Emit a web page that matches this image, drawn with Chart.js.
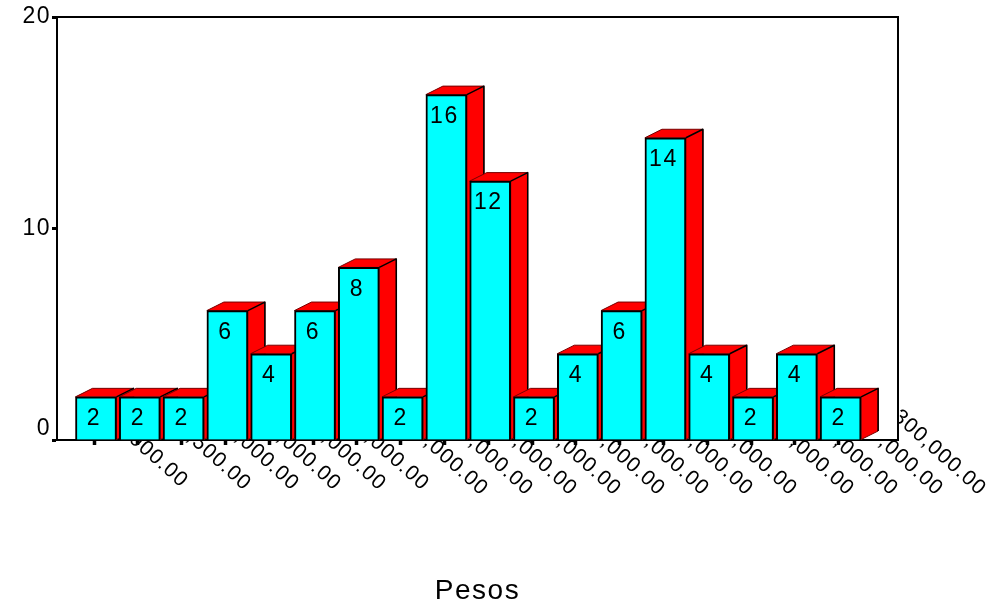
<!DOCTYPE html>
<html lang="es">
<head>
    <meta charset="UTF-8">
    <title>Pesos</title>
    <script src="https://cdn.jsdelivr.net/npm/chart.js"></script>
    <style>
        html, body { margin: 0; padding: 0; background: #fff; }
        #wrap { width: 988px; height: 605px; }
    </style>
</head>
<body>
    <div id="wrap"><canvas id="chart" width="988" height="605"></canvas></div>

    <script>
        const pesoLabels = ['900,000.00', '1,100,500.00', '1,200,000.00', '1,300,000.00', '1,400,000.00', '1,500,000.00',
            '1,600,000.00', '1,700,000.00', '1,800,000.00', '1,900,000.00', '2,000,000.00', '2,100,000.00',
            '2,200,000.00', '2,300,000.00', '2,400,000.00', '2,500,000.00', '3,000,000.00', '4,300,000.00'];
        const percents = [2.04, 2.04, 2.04, 6.12, 4.08, 6.12, 8.16, 2.04, 16.33, 12.24, 2.04, 4.08, 6.12, 14.29, 4.08, 2.04, 4.08, 2.04];
        const labelEndX = [185, 248, 296, 338, 383, 426, 485, 530, 574, 618, 662, 706, 750, 794, 851, 895, 940, 983];
        const labelEndY = [484, 487, 487, 487, 487, 487, 492, 492, 492, 492, 492, 492, 492, 492, 492, 492, 492, 492];
        const yTicks = [0, 10, 20];

        const FONT = '"Liberation Sans", Arial, sans-serif';
        const DEPTH_X = 17;
        const DEPTH_Y = 8.5;

        // labels sit behind the plot, so the white fill has to come after them
        const plotBack = {
            id: 'plotBack',
            beforeDraw(chart) {
                // the original text is set wide
                chart.ctx.letterSpacing = '1.5px';
            },
            beforeDatasetsDraw(chart) {
                const ctx = chart.ctx;
                const area = chart.chartArea;

                ctx.save();
                ctx.fillStyle = '#000';
                ctx.font = '21px ' + FONT;
                ctx.letterSpacing = '1.2px';
                ctx.textAlign = 'right';
                ctx.textBaseline = 'middle';
                pesoLabels.forEach((text, i) => {
                    ctx.save();
                    ctx.translate(labelEndX[i], labelEndY[i]);
                    ctx.rotate(42 * Math.PI / 180);
                    ctx.fillText(text, 0, 0);
                    ctx.restore();
                });
                ctx.restore();

                ctx.save();
                ctx.fillStyle = '#fff';
                ctx.fillRect(area.left, area.top, area.right - area.left, area.bottom - area.top);
                ctx.strokeStyle = '#000';
                ctx.lineWidth = 2;
                ctx.strokeRect(area.left, area.top, area.right - area.left, area.bottom - area.top);

                // side and top faces of the bars, left to right
                ctx.lineJoin = 'round';
                chart.getDatasetMeta(0).data.forEach(bar => {
                    const l = bar.x - bar.width / 2;
                    const r = bar.x + bar.width / 2;
                    ctx.fillStyle = '#f00';
                    ctx.strokeStyle = '#700';
                    ctx.lineWidth = 1;
                    ctx.beginPath();
                    ctx.moveTo(l, bar.y);
                    ctx.lineTo(l + DEPTH_X, bar.y - DEPTH_Y);
                    ctx.lineTo(r + DEPTH_X, bar.y - DEPTH_Y);
                    ctx.lineTo(r + DEPTH_X, bar.base - DEPTH_Y);
                    ctx.lineTo(r, bar.base);
                    ctx.lineTo(r, bar.y);
                    ctx.closePath();
                    ctx.fill();
                    ctx.stroke();
                    ctx.strokeStyle = '#000';
                    ctx.lineWidth = 1.5;
                    ctx.beginPath();
                    ctx.moveTo(r, bar.y);
                    ctx.lineTo(r + DEPTH_X, bar.y - DEPTH_Y);
                    ctx.lineTo(r + DEPTH_X, bar.base - DEPTH_Y);
                    ctx.stroke();
                });
                ctx.restore();
            },
            afterDatasetsDraw(chart) {
                const ctx = chart.ctx;
                ctx.save();
                ctx.fillStyle = '#000';
                ctx.font = '23px ' + FONT;
                ctx.textAlign = 'center';
                ctx.textBaseline = 'middle';
                chart.getDatasetMeta(0).data.forEach((bar, i) => {
                    ctx.fillText(Math.round(percents[i]), bar.x - 2, bar.y + 22);
                });
                ctx.restore();
            }
        };

        new Chart(document.getElementById('chart'), {
            type: 'bar',
            data: {
                datasets: [{
                    data: percents.map((v, i) => ({ x: i, y: v })),
                    backgroundColor: '#00ffff',
                    borderColor: '#000',
                    borderWidth: 2,
                    barThickness: 41
                }]
            },
            plugins: [plotBack],
            options: {
                responsive: false,
                animation: false,
                layout: { padding: { top: 17, right: 90, left: 0, bottom: 0 } },
                plugins: { legend: { display: false }, tooltip: { enabled: false } },
                scales: {
                    x: {
                        type: 'linear',
                        offset: false,
                        min: -0.89,
                        max: 18.31,
                        afterBuildTicks(scale) {
                            scale.ticks = percents.map((v, i) => ({ value: i - 0.045 }));
                        },
                        afterFit(scale) { scale.height = 165; },
                        ticks: { display: false },
                        grid: { offset: false, drawOnChartArea: false, drawTicks: true, tickLength: 5, tickWidth: 3.5, tickColor: '#000' },
                        border: { display: true, color: '#000', width: 2 },
                        title: {
                            display: true,
                            text: 'Pesos',
                            color: '#000',
                            font: { family: FONT, size: 28 },
                            padding: { top: 0, bottom: -3 }
                        }
                    },
                    y: {
                        min: 0,
                        max: 20,
                        afterBuildTicks(scale) {
                            scale.ticks = yTicks.map(v => ({ value: v }));
                        },
                        afterFit(scale) { scale.width = 57; },
                        ticks: {
                            color: '#000',
                            padding: 1,
                            font: { family: FONT, size: 23, lineHeight: 1 },
                            // the 0 sits a bit above its tick in the original
                            callback: v => v === 0 ? ['0', ''] : String(v)
                        },
                        grid: { drawOnChartArea: false, drawTicks: true, tickLength: 5, tickWidth: 3, tickColor: '#000' },
                        border: { display: true, color: '#000', width: 2 }
                    }
                }
            }
        });
    </script>
</body>
</html>
